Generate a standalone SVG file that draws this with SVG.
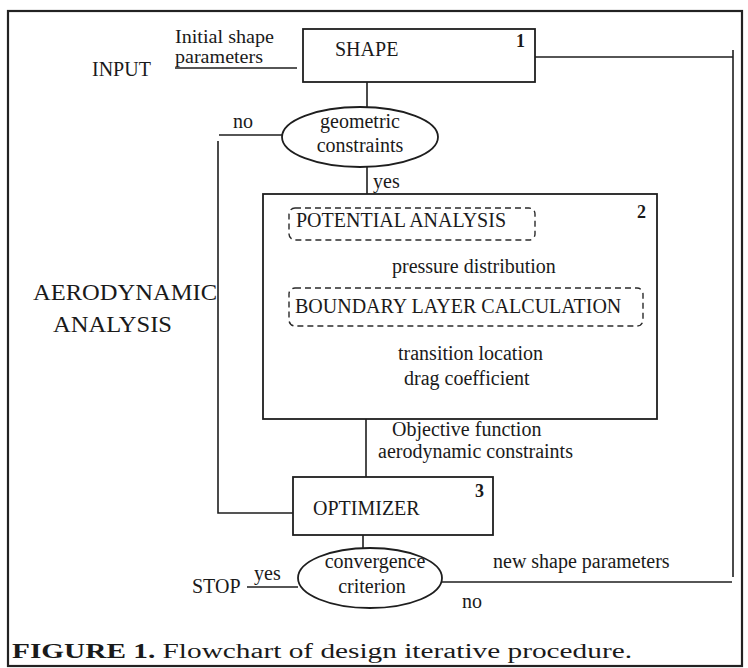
<svg xmlns="http://www.w3.org/2000/svg" width="748" height="668" viewBox="0 0 748 668">
<style>
.ln{stroke:#1e1e1e;stroke-width:1.6;fill:none}
.box{stroke:#1e1e1e;stroke-width:1.8;fill:#fff}
.dash{stroke:#2a2a2a;stroke-width:1.4;fill:none;stroke-dasharray:6 4}
text{font-family:"Liberation Serif","Times New Roman",serif;font-size:20px;fill:#1a1a1a}
.num{font-weight:bold;font-size:18px}
.big{font-size:24px}
.sm{font-size:18px}
</style>
<rect x="0" y="0" width="748" height="668" fill="#fff"/>
<rect x="8" y="11" width="734" height="655" fill="none" stroke="#222" stroke-width="2.2"/>

<g id="connectors">
  <line class="ln" x1="175" y1="68" x2="297" y2="68"/>
  <line class="ln" x1="367" y1="82" x2="367" y2="107"/>
  <polyline class="ln" points="535,57 733,57"/>
  <line class="ln" x1="733" y1="50" x2="733" y2="577"/>
  <line class="ln" x1="442" y1="582" x2="732" y2="582"/>
  <line class="ln" x1="219" y1="135" x2="282" y2="135"/>
  <polyline class="ln" points="218,141 218,513 293,513"/>
  <line class="ln" x1="367" y1="167" x2="367" y2="194"/>
  <line class="ln" x1="366" y1="240" x2="366" y2="288"/>
  <line class="ln" x1="366" y1="326" x2="366" y2="477"/>
  <line class="ln" x1="363" y1="535" x2="363" y2="548"/>
  <line class="ln" x1="247" y1="587" x2="298" y2="587"/>
</g>

<g id="input-label">
  <text class="sm" x="175" y="43" textLength="99" lengthAdjust="spacingAndGlyphs">Initial shape</text>
  <text class="sm" x="175" y="63" textLength="88" lengthAdjust="spacingAndGlyphs">parameters</text>
  <text x="92" y="76">INPUT</text>
</g>

<g id="shape">
  <rect class="box" x="303" y="29" width="232" height="53"/>
  <text x="335" y="56">SHAPE</text>
  <text class="num" x="516" y="47">1</text>
</g>

<g id="geometric">
  <ellipse class="box" cx="360" cy="137" rx="78" ry="30"/>
  <text x="360" y="128" text-anchor="middle">geometric</text>
  <text x="360" y="152" text-anchor="middle">constraints</text>
  <text x="233" y="128">no</text>
  <text x="373" y="188">yes</text>
</g>

<g id="aero-label">
  <text class="big" x="33" y="300" textLength="184" lengthAdjust="spacingAndGlyphs">AERODYNAMIC</text>
  <text class="big" x="53" y="332" textLength="119" lengthAdjust="spacingAndGlyphs">ANALYSIS</text>
</g>

<g id="analysis">
  <rect class="box" x="263" y="194" width="394" height="225"/>
  <text class="num" x="637" y="218">2</text>
</g>

<g id="potential">
  <rect class="dash" x="289" y="208" width="246" height="32" rx="6"/>
  <text x="296" y="227">POTENTIAL ANALYSIS</text>
  <text x="392" y="273">pressure distribution</text>
</g>

<g id="boundary">
  <rect class="dash" x="289" y="288" width="354" height="38" rx="6"/>
  <text x="295" y="313">BOUNDARY LAYER CALCULATION</text>
  <text x="398" y="360">transition location</text>
  <text x="404" y="385">drag coefficient</text>
</g>

<g id="objective-label">
  <text x="392" y="436">Objective function</text>
  <text x="378" y="458">aerodynamic constraints</text>
</g>

<g id="optimizer">
  <rect class="box" x="293" y="477" width="200" height="58"/>
  <text x="313" y="515">OPTIMIZER</text>
  <text class="num" x="475" y="497">3</text>
</g>

<g id="convergence">
  <ellipse class="box" cx="370" cy="578" rx="72" ry="30"/>
  <text x="375" y="568" text-anchor="middle">convergence</text>
  <text x="372" y="593" text-anchor="middle">criterion</text>
  <text x="192" y="593">STOP</text>
  <text x="254" y="580" font-size="18">yes</text>
  <text x="462" y="608">no</text>
  <text x="493" y="568">new shape parameters</text>
</g>

<g id="caption">
  <text x="12" y="658" font-size="23" textLength="620" lengthAdjust="spacingAndGlyphs"><tspan font-weight="bold">FIGURE 1.</tspan> Flowchart of design iterative procedure.</text>
</g>
</svg>
